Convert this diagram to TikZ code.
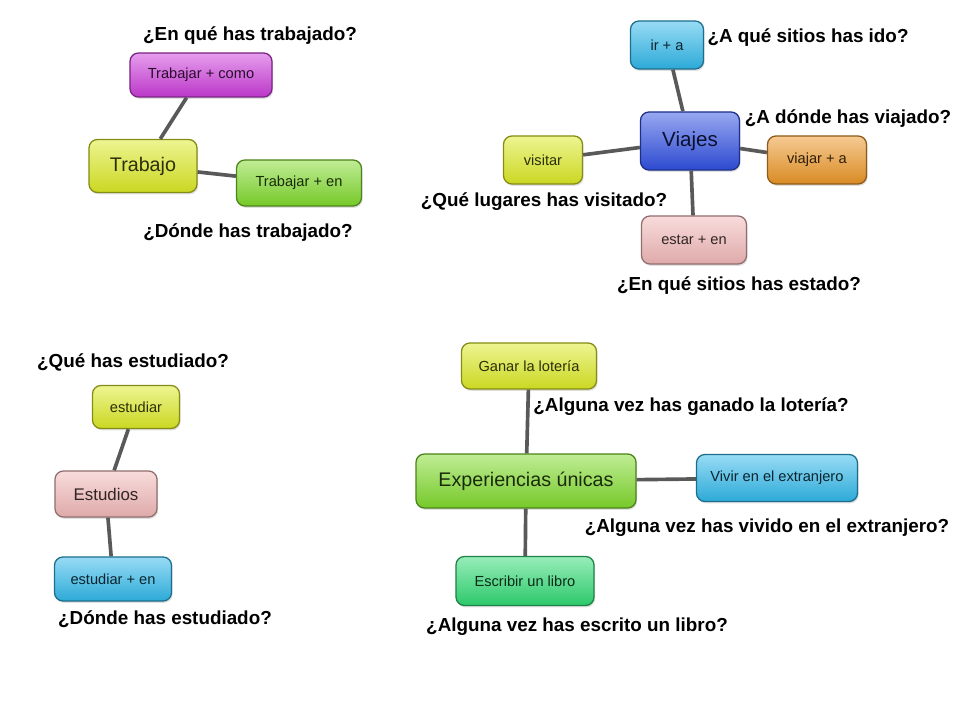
\documentclass[tikz,border=0pt]{standalone}
\usepackage{fontspec}
\setmainfont{Liberation Sans}
\usetikzlibrary{shadows}

\definecolor{magbox}{HTML}{CC3CDA}
\definecolor{yelbox}{HTML}{DCEA24}
\definecolor{grnbox}{HTML}{80DA2C}
\definecolor{cyanbox}{HTML}{30B8EA}
\definecolor{bluebox}{HTML}{3050E2}
\definecolor{orgbox}{HTML}{EC9626}
\definecolor{pinkbox}{HTML}{F2B8B8}
\definecolor{mintbox}{HTML}{30DA74}

\tikzset{
  mapbox/.style={rounded corners=6pt, draw=#1!60!black, line width=0.9pt,
    top color=#1!50!white, middle color=#1, bottom color=#1!92!black,
    text=#1!20!black, font=\fontsize{10.4}{12}\selectfont, inner sep=0pt,
    drop shadow={opacity=0.25, shadow xshift=0.8pt, shadow yshift=-1.3pt}},
  bigtext/.style={font=\fontsize{14}{16}\selectfont},
  ask/.style={font=\bfseries\fontsize{13.4}{16}\selectfont},
  link/.style={line width=2.6pt, draw=black!65},
  sz/.style 2 args={minimum width=#1*0.25mm, minimum height=#2*0.25mm},
}

\begin{document}
\begin{tikzpicture}[x=0.025cm, y=-0.025cm]
        \useasboundingbox (0,0) rectangle (960,720);

        % Trabajo
        \node[mapbox=yelbox, sz={108}{53}, bigtext] (trabajo) at (143,166) {Trabajo};
        \node[mapbox=magbox, sz={142}{44}] (como) at (201,75) {Trabajar + como};
        \node[mapbox=grnbox, sz={125}{46}] (trabEn) at (299,183) {Trabajar + en};
        \node[ask] (qComo) at (250,36) {¿En qué has trabajado?};
        \node[ask] (qTrabEn) at (248,233) {¿Dónde has trabajado?};

        % Viajes
        \node[mapbox=bluebox, sz={99}{58}, font=\fontsize{14.6}{16}\selectfont] (viajes) at (690,141) {Viajes};
        \node[mapbox=cyanbox, sz={73}{48}] (irA) at (667,45) {ir + a};
        \node[mapbox=yelbox, sz={79}{48}] (visitar) at (543,160) {visitar};
        \node[mapbox=orgbox, sz={99}{48}] (viajarA) at (817,160) {viajar + a};
        \node[mapbox=pinkbox, sz={105}{48}] (estarEn) at (694,240) {estar + en};
        \node[ask] (qIrA) at (808,38) {¿A qué sitios has ido?};
        \node[ask] (qViajarA) at (848,119) {¿A dónde has viajado?};
        \node[ask] (qVisitar) at (544,202) {¿Qué lugares has visitado?};
        \node[ask] (qEstarEn) at (739,286) {¿En qué sitios has estado?};

        % Estudios
        \node[mapbox=pinkbox, sz={102}{46}, font=\fontsize{12}{14}\selectfont] (estudios) at (106,494) {Estudios};
        \node[mapbox=yelbox, sz={87}{43}] (estudiar) at (136,407) {estudiar};
        \node[mapbox=cyanbox, sz={117}{44}] (estudiarEn) at (113,579) {estudiar + en};
        \node[ask] (qEstudiar) at (133,362) {¿Qué has estudiado?};
        \node[ask] (qEstudiarEn) at (165,619) {¿Dónde has estudiado?};

        % Experiencias
        \node[mapbox=grnbox, sz={220}{54}, bigtext] (exper) at (526,481) {Experiencias únicas};
        \node[mapbox=yelbox, sz={135}{46}] (loteria) at (529,366) {Ganar la lotería};
        \node[mapbox=cyanbox, sz={161}{47}] (extranjero) at (777,478) {Vivir en el extranjero};
        \node[mapbox=mintbox, sz={138}{49}] (libro) at (525,581) {Escribir un libro};
        \node[ask] (qLoteria) at (691,407) {¿Alguna vez has ganado la lotería?};
        \node[ask] (qExtranjero) at (767,528) {¿Alguna vez has vivido en el extranjero?};
        \node[ask] (qLibro) at (577,627) {¿Alguna vez has escrito un libro?};

        %edges from each centre
        \path[link] (trabajo) edge (como);
        \path[link] (trabajo) edge (trabEn);
        \path[link] (viajes) edge (irA);
        \path[link] (viajes) edge (visitar);
        \path[link] (viajes) edge (viajarA);
        \path[link] (viajes) edge (estarEn);
        \path[link] (estudios) edge (estudiar);
        \path[link] (estudios) edge (estudiarEn);
        \path[link] (exper) edge (loteria);
        \path[link] (exper) edge (extranjero);
        \path[link] (exper) edge (libro);
\end{tikzpicture}
\end{document}
